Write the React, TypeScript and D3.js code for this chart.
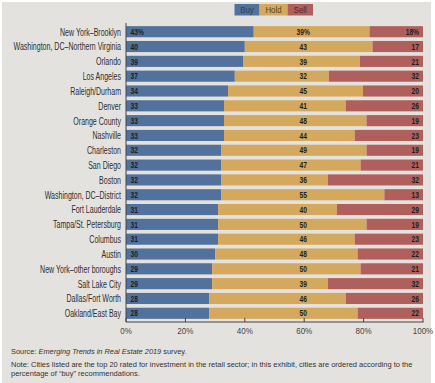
import React from "react";
import * as d3 from "d3";

const cities = [
  "New York–Brooklyn",
  "Washington, DC–Northern Virginia",
  "Orlando",
  "Los Angeles",
  "Raleigh/Durham",
  "Denver",
  "Orange County",
  "Nashville",
  "Charleston",
  "San Diego",
  "Boston",
  "Washington, DC–District",
  "Fort Lauderdale",
  "Tampa/St. Petersburg",
  "Columbus",
  "Austin",
  "New York–other boroughs",
  "Salt Lake City",
  "Dallas/Fort Worth",
  "Oakland/East Bay",
];
const buy = [43, 40, 39, 37, 34, 33, 33, 33, 32, 32, 32, 32, 31, 31, 31, 30, 29, 29, 28, 28];
const hold = [39, 43, 39, 32, 45, 41, 48, 44, 49, 47, 36, 55, 40, 50, 46, 48, 50, 39, 46, 50];
const sell = [18, 17, 21, 32, 20, 26, 19, 23, 19, 21, 32, 13, 29, 19, 23, 22, 21, 32, 26, 22];
const seriesKeys = ["Buy", "Hold", "Sell"];
const xTicks = [0, 20, 40, 60, 80, 100];

const colors: Record<string, string> = { Buy: "#52719c", Hold: "#d5a95d", Sell: "#b0605c" };
const legendText: Record<string, string> = { Buy: "#2b3f60", Hold: "#5a4318", Sell: "#5a1f1c" };

const W = 435;
const H = 383;
const font = "'Liberation Sans', Arial, sans-serif";

function CText(props: {
  x: number;
  y: number;
  sx: number;
  anchor?: "start" | "middle" | "end";
  size: number;
  weight?: string;
  fill: string;
  children: React.ReactNode;
}) {
  return (
    <text
      transform={`translate(${props.x},${props.y}) scale(${props.sx},1)`}
      textAnchor={props.anchor || "start"}
      fontFamily={font}
      fontSize={props.size}
      fontWeight={props.weight || "normal"}
      fill={props.fill}
    >
      {props.children}
    </text>
  );
}

export default function App() {
  const rows = cities.map((c, i) => ({ city: c, Buy: buy[i], Hold: hold[i], Sell: sell[i] }));
  const stack = d3.stack<any>().keys(seriesKeys).offset(d3.stackOffsetExpand);
  const layers = stack(rows);

  const x = d3.scaleLinear().domain([0, 1]).range([126, 423]);
  const xAxis = d3.scaleLinear().domain([0, 100]).range([126, 423]);
  const y = d3
    .scaleBand<string>()
    .domain(cities)
    .range([24.3, 320.7])
    .paddingInner(0.25)
    .paddingOuter(0.125);

  const axisY = 322;
  const legendX = [234.5, 259.5, 287.5, 313];

  return (
    <svg
      width={W}
      height={H}
      style={{ position: "absolute", left: 0, top: 0, display: "block" }}
      xmlns="http://www.w3.org/2000/svg"
    >
      <rect x={0} y={0} width={W} height={H} fill="#ffffff" />
      <rect x={2} y={2} width={429} height={H - 2} fill="#e4e2de" />

      {/* legend */}
      {seriesKeys.map((k, i) => (
        <g key={k}>
          <rect x={legendX[i]} y={4} width={legendX[i + 1] - legendX[i]} height={11.5} fill={colors[k]} />
          <CText
            x={(legendX[i] + legendX[i + 1]) / 2}
            y={13.2}
            sx={0.8}
            anchor="middle"
            size={9.8}
            fill={legendText[k]}
          >
            {k}
          </CText>
        </g>
      ))}

      {/* bars */}
      {layers.map((layer) => (
        <g key={layer.key}>
          {layer.map((d, i) => (
            <rect
              key={i}
              x={x(d[0])}
              y={y(cities[i])}
              width={x(d[1]) - x(d[0])}
              height={y.bandwidth()}
              fill={colors[layer.key]}
            />
          ))}
        </g>
      ))}

      {/* value labels */}
      {layers.map((layer) =>
        layer.map((d, i) => {
          const v = (d.data as any)[layer.key] as number;
          const txt = i === 0 ? `${v}%` : `${v}`;
          let tx = 0;
          let anchor: "start" | "middle" | "end" = "start";
          if (layer.key === "Buy") {
            tx = x(d[0]) + 4.5;
            anchor = "start";
          } else if (layer.key === "Hold") {
            tx = xAxis(60) - 1;
            anchor = "middle";
          } else {
            tx = x(d[1]) - 4;
            anchor = "end";
          }
          return (
            <CText
              key={layer.key + i}
              x={tx}
              y={(y(cities[i]) as number) + y.bandwidth() / 2 + 3.2}
              sx={0.74}
              anchor={anchor}
              size={9}
              weight="bold"
              fill="#1e1e1e"
            >
              {txt}
            </CText>
          );
        })
      )}

      {/* city labels */}
      {cities.map((c) => (
        <CText
          key={c}
          x={121}
          y={(y(c) as number) + y.bandwidth() / 2 + 3.9}
          sx={0.64}
          anchor="end"
          size={11}
          fill="#2e2e2e"
        >
          {c}
        </CText>
      ))}

      {/* axes */}
      <line x1={126} x2={126} y1={23} y2={axisY} stroke="#444" strokeWidth={1} />
      <line x1={126} x2={423.5} y1={axisY} y2={axisY} stroke="#444" strokeWidth={1} />
      {xTicks.map((t) => (
        <g key={t}>
          <line x1={xAxis(t)} x2={xAxis(t)} y1={axisY - 4} y2={axisY} stroke="#444" strokeWidth={1} />
          <CText x={xAxis(t)} y={334} sx={0.82} anchor="middle" size={9.8} fill="#444">
            {`${t}%`}
          </CText>
        </g>
      ))}

      {/* footer */}
      <text x={11} y={353.5} fontFamily={font} fontSize={7.4} fill="#333">
        Source: <tspan fontStyle="italic">Emerging Trends in Real Estate 2019</tspan> survey.
      </text>
      <text x={11} y={366.5} fontFamily={font} fontSize={7.5} fill="#333">
        Note: Cities listed are the top 20 rated for investment in the retail sector; in this exhibit, cities are ordered according to the
      </text>
      <text x={11} y={375.5} fontFamily={font} fontSize={7.5} fill="#333">
        percentage of “buy” recommendations.
      </text>
    </svg>
  );
}
